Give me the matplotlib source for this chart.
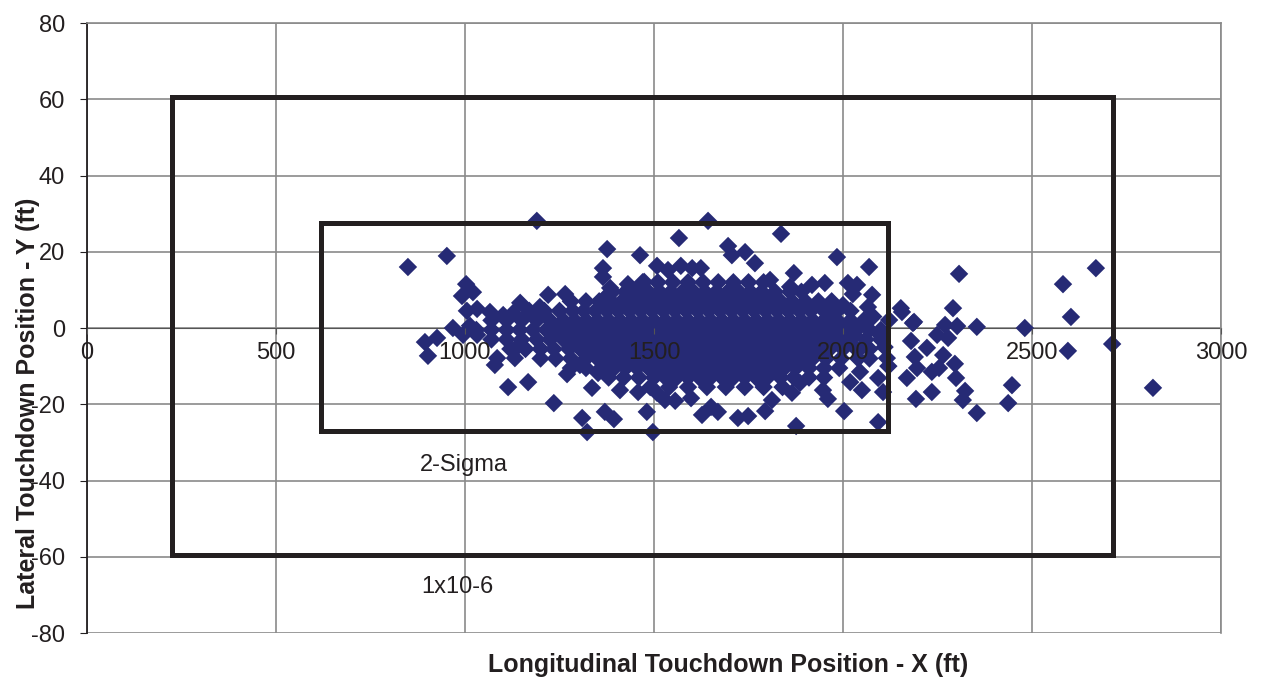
import matplotlib.pyplot as plt
import numpy as np

plt.rcParams['font.family'] = ['Liberation Sans', 'DejaVu Sans']
plt.rcParams['axes.unicode_minus'] = False

# scattered touchdown points (ft)
pts_x = [849, 952, 1190, 1003, 992, 1021, 1005, 1032, 1066, 1101, 1127, 1146, 1220, 1265,
         1198, 968, 995, 1032, 1013, 894, 926, 902, 1085, 1079, 1132, 1138, 1114, 1167,
         1235, 1270, 1304, 1352, 1310, 1323, 1336, 1370, 1394, 1410, 1458, 1481, 1497,
         1508, 1529, 1556, 1598, 1627, 1651, 1669, 1722, 1749, 1794, 1812, 1876, 1865,
         1886, 1947, 1960, 2003, 2019, 2045, 2050, 2093, 2093, 2106, 2169, 2196, 2193,
         2235, 2235, 2254, 2296, 2299, 2323, 2317, 2354, 2180, 2190, 2222, 2249, 2265,
         2278, 2185, 2188, 2122, 2153, 2156, 2066, 2077, 2026, 2037, 2013, 1974, 1952,
         1918, 1860, 1870, 1984, 2069, 2270, 2302, 2291, 2307, 2354, 2481, 2582, 2669,
         2603, 2595, 2712, 2820, 2447, 2437, 1643, 1566, 1376, 1463, 1836, 1365, 1365,
         1384, 1431, 1474, 1508, 1537, 1571, 1601, 1624, 1696, 1706, 1741, 1767, 1807,
         1370, 1394, 2110, 2120, 2100, 2050, 2070, 2040, 2080, 2000, 2030, 2116]
pts_y = [16.0, 18.9, 28.1, 11.5, 8.4, 9.4, 4.5, 5.0, 4.2, 3.4, 3.9, 6.6, 8.7, 8.9,
         5.5, 0.0, -1.8, -1.8, 0.6, -3.7, -2.6, -7.3, -7.9, -9.7, -7.9, -5.0, -15.5, -14.2,
         -19.7, -12.1, -9.7, -11.8, -23.6, -27.3, -15.7, -22.0, -23.9, -16.3, -16.8, -22.0, -27.3,
         -17.0, -18.9, -19.1, -18.4, -22.8, -20.7, -22.0, -23.6, -23.1, -21.8, -18.9, -25.7, -17.0,
         -14.4, -16.3, -18.6, -21.8, -14.2, -11.5, -16.3, -13.1, -24.7, -16.8, -13.1, -10.5, -18.6,
         -16.8, -11.5, -10.5, -9.4, -13.1, -16.5, -18.9, -22.3, -3.4, -7.6, -5.2, -1.8, -7.1,
         -2.6, 1.3, 1.6, 2.1, 5.2, 4.2, 5.5, 8.7, 8.9, 11.3, 11.8, 4.2, 11.8,
         11.3, 10.8, 14.4, 18.6, 16.0, 0.8, 0.5, 5.2, 14.2, 0.3, 0.0, 11.5, 15.7,
         2.9, -6.0, -4.2, -15.7, -15.0, -19.7, 28.1, 23.6, 20.7, 19.1, 24.7, 15.7, 13.4,
         10.5, 11.5, 12.1, 16.3, 15.2, 16.3, 15.7, 15.7, 21.5, 19.1, 19.9, 17.0, 12.6,
         7.9, 6.3, -5.0, -10.0, -2.0, -5.0, -8.0, 0.0, 3.0, 6.0, -2.0, -7.9]

# dense core of the cloud, one list of x values per lateral row
core_y = [12, 9.5, 7, 4.5, 2, -0.5, -3, -5.5, -8, -10.5, -13, -15.5]
core_x = [
    [1470, 1510, 1550, 1590, 1630, 1670, 1710, 1750, 1790],
    [1390, 1425, 1455, 1485, 1515, 1545, 1575, 1605, 1635, 1665, 1695, 1725, 1755, 1785, 1820,
     1860, 1890],
    [1280, 1320, 1355, 1385, 1415, 1445, 1475, 1505, 1535, 1565, 1595, 1625, 1655, 1685, 1715,
     1745, 1775, 1805, 1835, 1865, 1900, 1935, 1970],
    [1170, 1210, 1250, 1285, 1315, 1345, 1375, 1405, 1435, 1465, 1495, 1525, 1555, 1585, 1615,
     1645, 1675, 1705, 1735, 1765, 1795, 1825, 1855, 1885, 1915, 1950, 1985, 2020],
    [1070, 1110, 1150, 1190, 1225, 1260, 1290, 1320, 1350, 1380, 1410, 1440, 1470, 1500, 1530,
     1560, 1590, 1620, 1650, 1680, 1710, 1740, 1770, 1800, 1830, 1860, 1890, 1920, 1950, 1985,
     2020, 2055],
    [1030, 1070, 1110, 1145, 1180, 1215, 1245, 1275, 1305, 1335, 1365, 1395, 1425, 1455, 1485,
     1515, 1545, 1575, 1605, 1635, 1665, 1695, 1725, 1755, 1785, 1815, 1845, 1875, 1905, 1935,
     1965, 2000, 2035, 2070, 2100],
    [1070, 1110, 1150, 1190, 1225, 1260, 1290, 1320, 1350, 1380, 1410, 1440, 1470, 1500, 1530,
     1560, 1590, 1620, 1650, 1680, 1710, 1740, 1770, 1800, 1830, 1860, 1890, 1920, 1950, 1985,
     2020, 2060, 2100],
    [1120, 1160, 1200, 1235, 1275, 1305, 1335, 1365, 1395, 1425, 1455, 1485, 1515, 1545, 1575,
     1605, 1635, 1665, 1695, 1725, 1755, 1785, 1815, 1845, 1875, 1905, 1935, 1965, 2000, 2035,
     2070],
    [1200, 1240, 1280, 1320, 1350, 1380, 1410, 1440, 1470, 1500, 1530, 1560, 1590, 1620, 1650,
     1680, 1710, 1740, 1770, 1800, 1830, 1860, 1890, 1920, 1955, 1995, 2040],
    [1280, 1320, 1360, 1395, 1425, 1455, 1485, 1515, 1545, 1575, 1605, 1635, 1665, 1695, 1725,
     1755, 1785, 1815, 1845, 1875, 1910, 1950, 1990],
    [1380, 1420, 1460, 1500, 1530, 1560, 1590, 1620, 1650, 1680, 1710, 1740, 1770, 1800, 1835,
     1870, 1910, 1950],
    [1490, 1540, 1590, 1640, 1690, 1740, 1790, 1840],
]

# boundary boxes (ft)
sigma_box_x = [620, 2118]
sigma_box_y = [-27.1, 27.5]
risk_box_x = [226, 2714]
risk_box_y = [-59.6, 60.5]

xticks = [0, 500, 1000, 1500, 2000, 2500, 3000]
yticks = [-80, -60, -40, -20, 0, 20, 40, 60, 80]

navy = '#262a75'
ink = '#231f20'

fig = plt.figure(figsize=(12.62, 6.83), dpi=100)
ax = fig.add_axes([87 / 1262, 1 - 633 / 683, (1221 - 87) / 1262, 610 / 683])
ax.xaxis.set_zorder(5)

for v in yticks:
    ax.axhline(v, color='#8a8a8a', lw=1.2, zorder=0)
for v in xticks:
    ax.axvline(v, color='#8a8a8a', lw=1.2, zorder=0)

all_x = list(pts_x)
all_y = list(pts_y)
for yy, row in zip(core_y, core_x):
    all_x += row
    all_y += [yy] * len(row)
ax.scatter(all_x, all_y, marker='D', s=88, color=navy, edgecolors='none', zorder=2)

for bx, by in [(sigma_box_x, sigma_box_y), (risk_box_x, risk_box_y)]:
    ax.plot([bx[0], bx[1], bx[1], bx[0], bx[0]], [by[0], by[0], by[1], by[1], by[0]],
            color=ink, lw=3.6, solid_joinstyle='miter', zorder=3)

ax.text(881, -36, '2-Sigma', fontsize=17, color=ink, va='center', ha='left', zorder=4)
ax.text(884, -68, '1x10-6', fontsize=17, color=ink, va='center', ha='left', zorder=4)

ax.set_xlim(0, 3000)
ax.set_ylim(-80, 80)
ax.set_xticks(xticks)
ax.set_yticks(yticks)

ax.spines['bottom'].set_position(('data', 0))
ax.spines['bottom'].set_zorder(0.5)
ax.spines['bottom'].set_color('#555555')
ax.spines['left'].set_color(ink)
ax.spines['left'].set_linewidth(1.3)
for s in ['top', 'right']:
    ax.spines[s].set_color('#8a8a8a')
    ax.spines[s].set_linewidth(1.2)

ax.tick_params(axis='x', direction='out', length=4, pad=6, labelsize=17, labelcolor=ink, color='#555555')
ax.tick_params(axis='y', direction='out', length=5, pad=11, labelsize=17, labelcolor=ink, color=ink)

fig.text(728 / 1262, 1 - 665 / 683, 'Longitudinal Touchdown Position - X (ft)',
         fontsize=18, fontweight='bold', color=ink, ha='center', va='center')
fig.text(28 / 1262, 1 - 403 / 683, 'Lateral Touchdown Position - Y (ft)',
         fontsize=18, fontweight='bold', color=ink, ha='center', va='center', rotation=90)

fig.savefig('out.png', dpi=100)
